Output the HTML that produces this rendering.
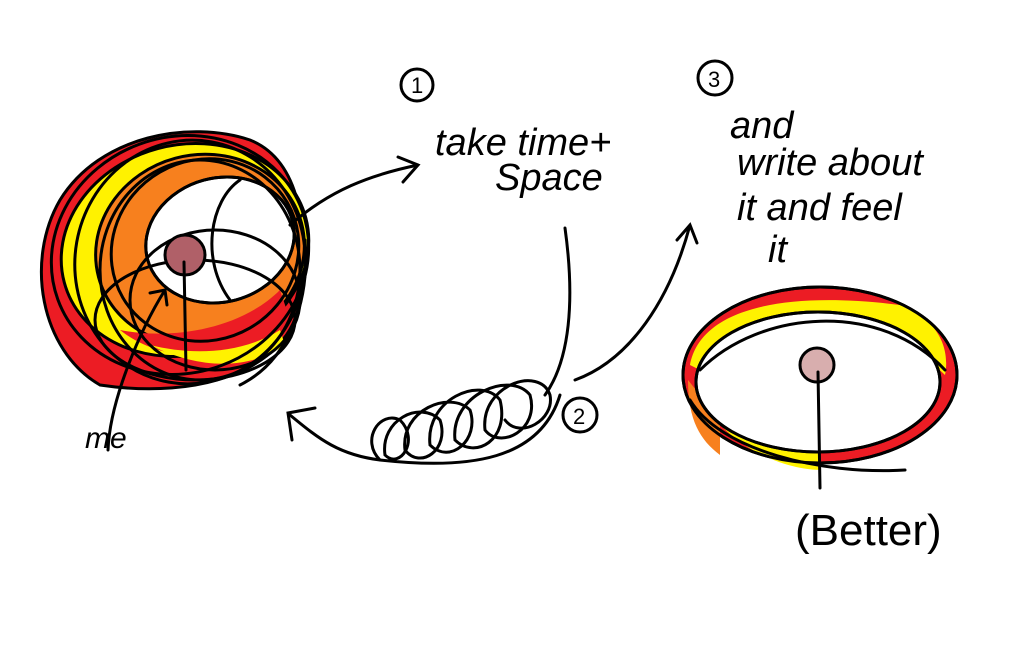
<!DOCTYPE html>
<html><head><meta charset="utf-8"><style>
html,body{margin:0;padding:0;background:#fff}
svg{display:block}
text{font-family:"Liberation Sans",sans-serif;fill:#000}
</style></head><body>
<svg width="1024" height="645" viewBox="0 0 1024 645" xmlns="http://www.w3.org/2000/svg">
<g stroke="#000" stroke-width="3" stroke-linecap="round" fill="none">
<path d="M100,385 C40,350 25,260 60,200 C100,135 190,120 250,140 C300,160 310,230 300,300 C290,370 200,400 100,385 Z" fill="#ec1c24"/>
<ellipse cx="185" cy="250" rx="125" ry="105" transform="rotate(-15 185 250)" fill="#fff200"/>
<ellipse cx="200" cy="250" rx="105" ry="95" transform="rotate(-15 200 250)" fill="#f7801e"/>
<path d="M120,330 C170,370 250,360 290,320 L280,290 C240,330 170,340 120,330 Z" fill="#ec1c24" stroke="none"/>
<path d="M150,345 C200,370 250,370 285,345 L280,330 C240,355 190,355 150,345 Z" fill="#fff200" stroke="none"/>
<ellipse cx="220" cy="240" rx="75" ry="62" transform="rotate(-15 220 240)" fill="#fff"/>
<ellipse cx="180" cy="255" rx="130" ry="118" transform="rotate(-20 180 255)"/>
<ellipse cx="190" cy="262" rx="115" ry="122" transform="rotate(10 190 262)"/>
<ellipse cx="200" cy="270" rx="100" ry="110"/>
<ellipse cx="205" cy="250" rx="95" ry="90" transform="rotate(-30 205 250)"/>
<ellipse cx="215" cy="300" rx="85" ry="70"/>
<ellipse cx="195" cy="320" rx="100" ry="60"/>
<ellipse cx="220" cy="240" rx="75" ry="62" transform="rotate(-15 220 240)"/>
<path d="M230,300 C200,260 210,200 240,180"/>
<path d="M305,240 C310,300 290,360 240,385"/>
<circle cx="185" cy="255" r="20" fill="#b06068"/>
<path d="M184,262 L186,370"/>
<path d="M108,450 C110,400 140,330 165,290 M150,293 L165,290 L167,305"/>
<path d="M290,225 C330,190 370,175 418,165 M398,157 L418,165 L403,182"/>
<path d="M565,228 C575,300 570,360 545,395"/>
<path d="M560,395 C540,460 470,470 380,460 C360,440 380,410 400,420 C420,440 400,470 385,455 C380,420 420,400 440,420 C450,450 420,470 405,450 C400,410 450,390 470,410 C480,440 450,465 430,445 C425,400 480,375 500,400 C510,440 475,460 455,440 C450,395 510,370 530,395 C540,430 500,450 485,430 C480,385 540,365 550,395 C555,420 520,440 505,420"/>
<path d="M380,460 C340,455 320,440 290,415 M292,440 L288,413 L315,408"/>
<path d="M575,380 C630,360 670,300 690,225 M677,240 L690,225 L697,243"/>
<ellipse cx="820" cy="375" rx="137" ry="88" fill="#ec1c24"/>
<path d="M690,365 C700,310 780,290 900,305 C940,320 950,350 945,375 C900,330 800,310 700,370 Z" fill="#fff200" stroke="none"/>
<path d="M700,400 C740,460 800,470 820,470 L820,450 C770,450 720,430 700,400 Z" fill="#fff200" stroke="none"/>
<path d="M688,380 C688,420 700,440 720,455 L720,420 Z" fill="#f7801e" stroke="none"/>
<ellipse cx="818" cy="382" rx="122" ry="70" fill="#fff"/>
<ellipse cx="820" cy="375" rx="137" ry="88"/>
<ellipse cx="818" cy="382" rx="122" ry="70"/>
<path d="M700,370 C760,310 880,300 945,370"/>
<path d="M690,400 C720,450 820,475 905,470"/>
<circle cx="817" cy="365" r="17" fill="#d8aeae"/>
<path d="M818,372 L820,488"/>
<circle cx="417" cy="85" r="16"/>
<circle cx="715" cy="78" r="17"/>
<circle cx="580" cy="415" r="17"/>
</g>
<g font-size="22">
<text x="411" y="93">1</text>
<text x="708" y="87">3</text>
<text x="573" y="424">2</text>
</g>
<g font-size="38" font-style="italic">
<text x="435" y="155">take time+</text>
<text x="495" y="190">Space</text>
<text x="730" y="138">and</text>
<text x="737" y="175">write about</text>
<text x="737" y="220">it and feel</text>
<text x="768" y="262">it</text>
<text x="85" y="448" font-size="30">me</text>
</g>
<text x="795" y="545" font-size="44">(Better)</text>
</svg>
</body></html>
